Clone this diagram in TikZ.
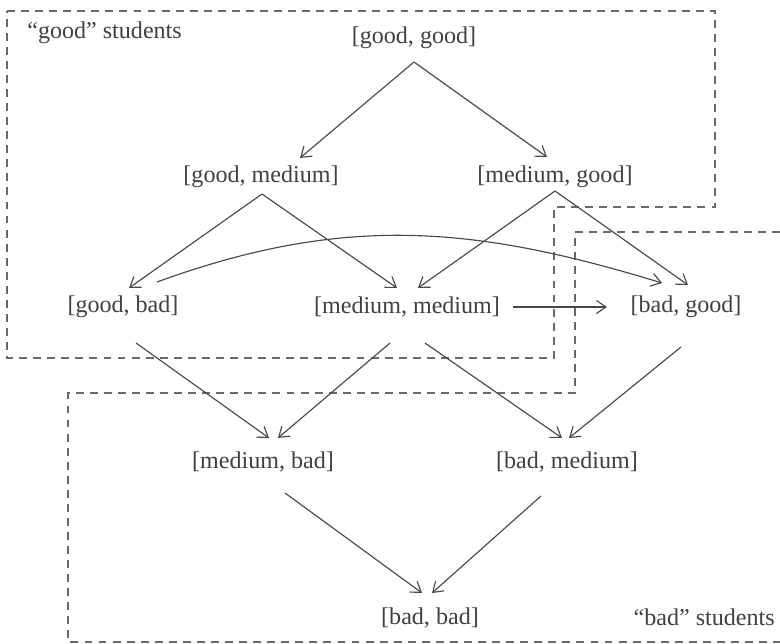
\documentclass[tikz,border=0pt]{standalone}
\usepackage{fontspec}
\setmainfont{Liberation Serif}
\usetikzlibrary{arrows.meta,calc}
\definecolor{ink}{HTML}{404040}
\definecolor{edge}{HTML}{484848}
\definecolor{frame}{HTML}{6A6A6A}
\tikzset{
  >={Straight Barb[length=5.5pt,width=7.5pt]},
  every node/.style={font=\fontsize{13.7}{16}\selectfont,text=ink,inner sep=0pt},
  grade/.style={anchor=center},
  grouplabel/.style={},
  move/.style={->,draw=edge,line width=0.65pt},
  region/.style={draw=frame,line width=0.85pt,dash pattern=on 4.5pt off 3.5pt},
}

\begin{document}
\begin{tikzpicture}[x=0.02cm,y=0.02cm]
\useasboundingbox (0,0) rectangle (780,-644);

% the two groups
\draw[region] (7,-11) -- (715,-11) -- (715,-207) -- (554,-207) -- (554,-358) -- (7,-358) -- cycle;
\draw[region] (780,-232) -- (575,-232) -- (575,-393) -- (68,-393) -- (68,-642) -- (780,-642);
\node[grouplabel,anchor=west] (goodlbl) at (27,-33) {“good” students};
\node[grouplabel,anchor=east] (badlbl) at (775,-617) {“bad” students};

% grade pairs
\node[grade] (gg) at (414,-38) {[good, good]};
\node[grade] (gm) at (261,-177) {[good, medium]};
\node[grade] (mg) at (555,-177) {[medium, good]};
\node[grade] (gb) at (123,-307) {[good, bad]};
\node[grade] (mm) at (407,-307) {[medium, medium]};
\node[grade] (bg) at (686,-307) {[bad, good]};
\node[grade] (mb) at (263,-462) {[medium, bad]};
\node[grade] (bm) at (567,-462) {[bad, medium]};
\node[grade] (bb) at (430,-618) {[bad, bad]};

% moves
\draw[move] ($(gg)+(0,-24)$) -- ($(gm)+(39,19)$);
\draw[move] ($(gg)+(0,-24)$) -- ($(mg)+(-8,20)$);
\draw[move] ($(gm)+(1,-17)$) -- ($(gb)+(6,19)$);
\draw[move] ($(gm)+(1,-17)$) -- ($(mm)+(-10,19)$);
\draw[move] ($(mg)+(0,-14)$) -- ($(mm)+(11,19)$);
\draw[move] ($(mg)+(0,-14)$) -- ($(bg)+(2,22)$);
\draw[move] ($(gb)+(34,25)$) to[out=20,in=163] ($(bg)+(-24,24)$);
\draw[move] ($(mm)+(106,0)$) -- ($(bg)+(-79,0)$);
\draw[move] ($(gb)+(13,-36)$) -- ($(mb)+(6,24)$);
\draw[move] ($(mm)+(-17,-36)$) -- ($(mb)+(15,24)$);
\draw[move] ($(mm)+(18,-36)$) -- ($(bm)+(-5,24)$);
\draw[move] ($(bg)+(-5,-40)$) -- ($(bm)+(2,24)$);
\draw[move] ($(mb)+(22,-31)$) -- ($(bb)+(-8,25)$);
\draw[move] ($(bm)+(-26,-34)$) -- ($(bb)+(2,25)$);

\end{tikzpicture}
\end{document}
